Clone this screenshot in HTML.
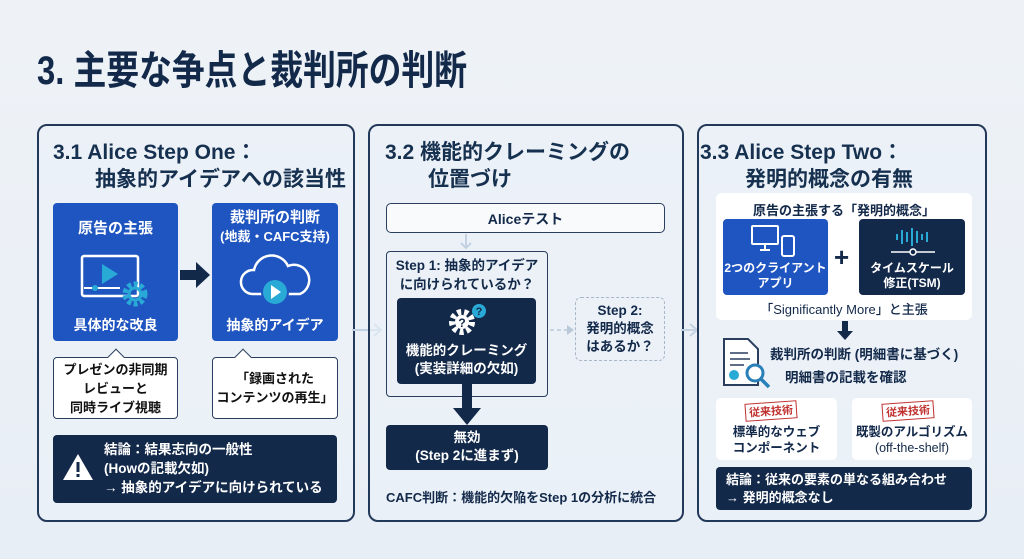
<!DOCTYPE html>
<html><head><meta charset="utf-8">
<style>
*{margin:0;padding:0;box-sizing:border-box}
body{width:1024px;height:559px;overflow:hidden;background:linear-gradient(#eef2f7,#e8eef5);font-family:"Liberation Sans","Noto Sans CJK JP",sans-serif;color:#13294a;position:relative}
.a{position:absolute}
.panel{position:absolute;border:2px solid #23395a;border-radius:10px;background:rgba(235,241,248,0.6)}
.h{font-weight:700;font-size:21px;line-height:29px;color:#16304f}
.blue{background:#1f55c0;color:#fff;border-radius:4px}
.dark{background:#13294a;color:#fff;border-radius:4px}
.white{background:#fff;border:1.5px solid #2a3f5e;border-radius:4px}
.c{text-align:center;font-weight:700}
.tri{position:absolute;width:12px;height:12px;background:#fff;border-left:1.5px solid #2a3f5e;border-top:1.5px solid #2a3f5e;transform:rotate(45deg)}
</style></head><body>
<div class="a" style="left:37px;top:38px;font-size:40px;font-weight:700;color:#13294a;transform:scaleX(0.82);transform-origin:0 0;white-space:nowrap">3. 主要な争点と裁判所の判断</div>

<!-- panel 1 -->
<div class="panel" style="left:37px;top:124px;width:318px;height:398px"></div>
<div class="a h" style="left:53px;top:138px">3.1 Alice Step One：</div>
<div class="a h" style="left:95px;top:165px">抽象的アイデアへの該当性</div>
<div class="a blue" style="left:53px;top:203px;width:125px;height:138px"></div>
<div class="a c" style="left:53px;top:217px;width:125px;color:#fff;font-size:15px">原告の主張</div>
<svg class="a" style="left:80px;top:254px" width="75" height="55" viewBox="0 0 75 55">
<rect x="2" y="2" width="56" height="40" rx="2" fill="none" stroke="#fff" stroke-width="2.5"/>
<path d="M22 10 L38 20 L22 30Z" fill="#29a9d6"/>
<line x1="4" y1="34" x2="40" y2="34" stroke="#fff" stroke-width="2"/><circle cx="15" cy="34" r="3" fill="#29a9d6"/>
<circle cx="55" cy="40" r="10" fill="none" stroke="#29a9d6" stroke-width="5" stroke-dasharray="4 2.5"/><circle cx="55" cy="40" r="6" fill="none" stroke="#29a9d6" stroke-width="3"/>
</svg>
<div class="a c" style="left:53px;top:315px;width:125px;color:#fff;font-size:14px">具体的な改良</div>
<svg class="a" style="left:180px;top:262px" width="32" height="26"><path d="M0 8h16V0l14 13-14 13v-8H0z" fill="#13294a"/></svg>
<div class="a blue" style="left:212px;top:203px;width:126px;height:138px"></div>
<div class="a c" style="left:212px;top:208px;width:126px;color:#fff;font-size:15px;line-height:19px">裁判所の判断<br><span style="font-size:13px">(地裁・CAFC支持)</span></div>
<svg class="a" style="left:238px;top:252px" width="75" height="58" viewBox="0 0 75 58">
<path d="M14 42 a12 12 0 0 1 2-24 a18 18 0 0 1 34-4 a14 14 0 0 1 12 28z" fill="none" stroke="#fff" stroke-width="2.5"/>
<circle cx="37" cy="40" r="13" fill="#29a9d6" stroke="#1f55c0" stroke-width="2"/><path d="M33 33l10 7-10 7z" fill="#fff"/>
</svg>
<div class="a c" style="left:212px;top:315px;width:126px;color:#fff;font-size:14px">抽象的アイデア</div>
<div class="a white" style="left:53px;top:357px;width:125px;height:62px"></div>
<div class="tri" style="left:110px;top:351px"></div>
<div class="a c" style="left:53px;top:360px;width:125px;font-size:13px;line-height:19px;color:#111">プレゼンの非同期<br>レビューと<br>同時ライブ視聴</div>
<div class="a white" style="left:212px;top:357px;width:126px;height:62px"></div>
<div class="tri" style="left:237px;top:351px"></div>
<div class="a c" style="left:212px;top:369px;width:126px;font-size:13px;line-height:19px;color:#111">「録画された<br>コンテンツの再生」</div>
<div class="a dark" style="left:53px;top:435px;width:284px;height:68px"></div>
<svg class="a" style="left:62px;top:452px" width="32" height="30"><path d="M16 2L31 28H1z" fill="#fff"/><rect x="14.5" y="10" width="3" height="10" fill="#13294a"/><rect x="14.5" y="22" width="3" height="3" fill="#13294a"/></svg>
<div class="a" style="left:104px;top:440px;color:#fff;font-size:13.5px;line-height:19px;font-weight:700">結論：結果志向の一般性<br>(Howの記載欠如)<br>→ 抽象的アイデアに向けられている</div>

<svg class="a" style="left:352px;top:322px" width="34" height="16"><path d="M0 8h28M22 2l7 6-7 6" stroke="#c2d2e3" stroke-width="2" fill="none"/></svg>

<!-- panel 2 -->
<div class="panel" style="left:368px;top:124px;width:316px;height:398px"></div>
<div class="a h" style="left:385px;top:138px">3.2 機能的クレーミングの</div>
<div class="a h" style="left:428px;top:165px">位置づけ</div>
<div class="a" style="left:386px;top:203px;width:279px;height:30px;border:1.5px solid #2a3f5e;border-radius:5px;background:#f8fafc"></div>
<div class="a c" style="left:386px;top:209px;width:279px;font-size:14px">Aliceテスト</div>
<svg class="a" style="left:460px;top:234px" width="12" height="16"><path d="M6 0v14M1 9l5 5 5-5" stroke="#c2d2e3" stroke-width="2" fill="none"/></svg>
<div class="a" style="left:386px;top:251px;width:162px;height:146px;border:1.5px solid #2a3f5e;border-radius:4px"></div>
<div class="a c" style="left:386px;top:256px;width:162px;font-size:13.5px;line-height:19px">Step 1: 抽象的アイデア<br>に向けられているか？</div>
<div class="a dark" style="left:397px;top:298px;width:139px;height:86px"></div>
<svg class="a" style="left:447px;top:302px" width="44" height="36"><circle cx="15" cy="20" r="10" fill="none" stroke="#fff" stroke-width="6" stroke-dasharray="4 3"/><circle cx="15" cy="20" r="7" fill="#fff"/><text x="15" y="25" font-size="12" font-weight="700" text-anchor="middle" fill="#13294a" font-family="Liberation Sans">?</text><circle cx="32" cy="9" r="7" fill="#29a9d6"/><text x="32" y="13" font-size="11" font-weight="700" text-anchor="middle" fill="#13294a" font-family="Liberation Sans">?</text></svg>
<div class="a c" style="left:397px;top:342px;width:139px;font-size:13.5px;line-height:18px;color:#fff">機能的クレーミング<br>(実装詳細の欠如)</div>
<svg class="a" style="left:452px;top:384px" width="30" height="42"><path d="M10 0h10v24h9L15 41 1 24h9z" fill="#13294a"/></svg>
<div class="a dark" style="left:386px;top:425px;width:162px;height:45px"></div>
<div class="a c" style="left:386px;top:429px;width:162px;font-size:13.5px;line-height:18px;color:#fff">無効<br>(Step 2に進まず)</div>
<svg class="a" style="left:550px;top:323px" width="26" height="14"><path d="M0 7h20" stroke="#b9c9da" stroke-width="1.5" stroke-dasharray="4 3"/><path d="M17 2l7 5-7 5z" fill="#b9c9da"/></svg>
<div class="a" style="left:575px;top:297px;width:90px;height:64px;border:1.5px dashed #a8b6c6;border-radius:6px"></div>
<div class="a c" style="left:575px;top:302px;width:90px;font-size:13.5px;line-height:18px">Step 2:<br>発明的概念<br>はあるか？</div>
<div class="a" style="left:386px;top:487px;font-size:13px;font-weight:700;white-space:nowrap">CAFC判断：機能的欠陥をStep 1の分析に統合</div>

<svg class="a" style="left:681px;top:322px" width="20" height="16"><path d="M0 8h14M9 2l7 6-7 6" stroke="#c2d2e3" stroke-width="2" fill="none"/></svg>

<!-- panel 3 -->
<div class="panel" style="left:697px;top:124px;width:290px;height:398px"></div>
<div class="a h" style="left:700px;top:138px">3.3 Alice Step Two：</div>
<div class="a h" style="left:745px;top:165px">発明的概念の有無</div>
<div class="a" style="left:716px;top:193px;width:256px;height:127px;background:#fff;border-radius:6px"></div>
<div class="a c" style="left:716px;top:200px;width:256px;font-size:13px">原告の主張する「発明的概念」</div>
<div class="a blue" style="left:723px;top:219px;width:105px;height:76px"></div>
<svg class="a" style="left:750px;top:224px" width="50" height="36"><rect x="2" y="2" width="26" height="18" rx="1" fill="none" stroke="#fff" stroke-width="2"/><path d="M10 26h10M15 20v6" stroke="#fff" stroke-width="2"/><rect x="32" y="12" width="12" height="20" rx="2" fill="none" stroke="#fff" stroke-width="2"/></svg>
<div class="a c" style="left:723px;top:261px;width:105px;color:#fff;font-size:12px;line-height:15px">2つのクライアント<br>アプリ</div>
<div class="a" style="left:834px;top:242px;font-size:26px;font-weight:700">+</div>
<div class="a dark" style="left:859px;top:219px;width:106px;height:76px"></div>
<svg class="a" style="left:885px;top:226px" width="56" height="32"><g stroke="#29a9d6" stroke-width="2"><path d="M12 8v6M17 4v14M22 6v10M27 2v18M32 5v12M37 8v6M42 6v10"/></g><path d="M6 26h44" stroke="#fff" stroke-width="1.5"/><circle cx="28" cy="26" r="3" fill="#13294a" stroke="#fff" stroke-width="1.5"/></svg>
<div class="a c" style="left:859px;top:261px;width:106px;color:#fff;font-size:12px;line-height:15px">タイムスケール<br>修正(TSM)</div>
<div class="a c" style="left:716px;top:299px;width:256px;font-size:13px;font-weight:500">「Significantly More」と主張</div>
<svg class="a" style="left:837px;top:321px" width="16" height="20"><path d="M5 0h6v10h5L8 19 0 10h5z" fill="#13294a"/></svg>
<svg class="a" style="left:722px;top:337px" width="52" height="54"><path d="M2 2h24l10 10v36H2z" fill="#fff" stroke="#2a3f5e" stroke-width="2"/><path d="M8 16h18M8 22h20M8 28h14" stroke="#2a3f5e" stroke-width="1.5"/><circle cx="12" cy="38" r="5" fill="#29a9d6"/><circle cx="33" cy="36" r="8" fill="#fff" stroke="#2a7fb8" stroke-width="3"/><path d="M39 42l8 8" stroke="#2a7fb8" stroke-width="3.5"/></svg>
<div class="a" style="left:770px;top:343px;font-size:13.5px;font-weight:700;white-space:nowrap">裁判所の判断 (明細書に基づく)</div>
<div class="a" style="left:785px;top:366px;font-size:13.5px;font-weight:700">明細書の記載を確認</div>
<div class="a" style="left:716px;top:398px;width:121px;height:62px;background:#fff;border-radius:5px"></div>
<div class="a" style="left:745px;top:402px;padding:0 3px;border:1.5px solid #c0312f;color:#c0312f;font-size:11px;font-weight:700;transform:rotate(-4deg)">従来技術</div>
<div class="a c" style="left:716px;top:424px;width:121px;font-size:12.5px;line-height:16px">標準的なウェブ<br>コンポーネント</div>
<div class="a" style="left:852px;top:398px;width:120px;height:62px;background:#fff;border-radius:5px"></div>
<div class="a" style="left:882px;top:402px;padding:0 3px;border:1.5px solid #c0312f;color:#c0312f;font-size:11px;font-weight:700;transform:rotate(-4deg)">従来技術</div>
<div class="a c" style="left:852px;top:424px;width:120px;font-size:12.5px;line-height:16px">既製のアルゴリズム<br><span style="font-weight:400">(off-the-shelf)</span></div>
<div class="a dark" style="left:716px;top:467px;width:256px;height:43px"></div>
<div class="a" style="left:726px;top:471px;color:#fff;font-size:13px;line-height:18px;font-weight:700;white-space:nowrap">結論：従来の要素の単なる組み合わせ<br>→ 発明的概念なし</div>
</body></html>
